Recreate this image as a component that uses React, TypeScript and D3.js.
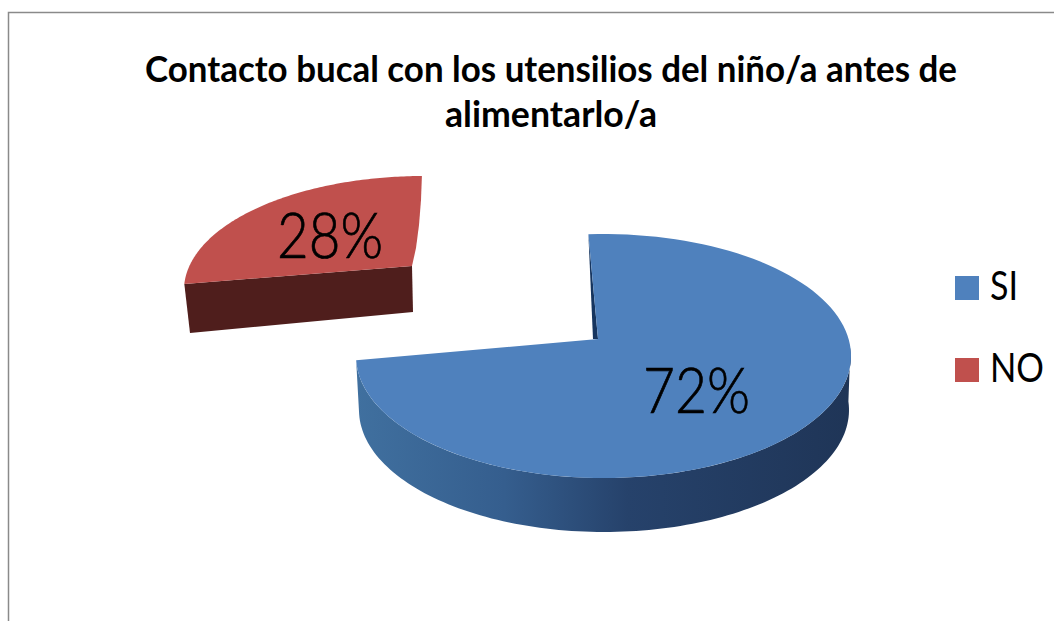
import React from "react";
import * as d3 from "d3";

const categories = ["SI", "NO"];
const values = [72, 28];
const labels = ["72%", "28%"];
const titleLines = ["Contacto bucal con los utensilios del niño/a antes de", "alimentarlo/a"];

const colors = { SI: "#4f81bd", NO: "#c0504d" };
const FONT = "Lato, 'Open Sans', sans-serif";
const rad = (d: number) => (d * Math.PI) / 180;

type Ell = { cx: number; cy: number; rx: number; ry: number };
const blueTop: Ell = { cx: 603.5, cy: 356, rx: 247.5, ry: 122 };
const blueBot: Ell = { cx: 604, cy: 410, rx: 245, ry: 122 };
const redTop: Ell = { cx: 424, cy: 290, rx: 240, ry: 114 };
const blueApex: [number, number] = [598, 339];
const redApex: [number, number] = [412, 266];
const redEdge: [number, number][] = [[416, 248], [419, 225], [421, 200]];
const redLowerApex: [number, number] = [413, 312];
const redLowerLeft: [number, number] = [190, 333];

const pt = (e: Ell, a: number): [number, number] => [e.cx + e.rx * Math.sin(a), e.cy - e.ry * Math.cos(a)];
const line = d3.line<[number, number]>();
const arcPts = (e: Ell, a0: number, a1: number) =>
  d3.range(0, 121).map((i) => pt(e, a0 + ((a1 - a0) * i) / 120));

const slices = d3.pie<number>().sort(null)(values);
// Map a pie angle to the tilted ellipse parameter (perspective stretches the sweep).
const blueParam = d3.scaleLinear().domain([slices[0].startAngle, slices[0].endAngle]).range([rad(-3.5), rad(268)]);
const redParam = d3.scaleLinear().domain([slices[1].startAngle, slices[1].endAngle]).range([rad(273), rad(359.5)]);

const b0 = blueParam(slices[0].startAngle);
const b1 = blueParam(slices[0].endAngle);
const r0 = redParam(slices[1].startAngle);
const r1 = redParam(slices[1].endAngle);

const blueFace = arcPts(blueTop, b0, b1);
const blueFacePath = line([blueApex, ...blueFace]) + "Z";
const blueSidePath = line([...arcPts(blueTop, rad(86), b1), ...arcPts(blueBot, b1, rad(86))]) + "Z";
const blueWall = line([blueFace[0], blueApex, [blueApex[0] - 5, blueApex[1]]]) + "Z";

const redFace = arcPts(redTop, r0, r1);
const redFacePath = d3.line<[number, number]>()([redApex, ...redFace, ...[...redEdge].reverse()]) + "Z";
const redSidePath = line([redFace[0], redApex, redLowerApex, redLowerLeft]) + "Z";

export default function App() {
  return (
    <svg width={1054} height={621} style={{ position: "absolute", left: 0, top: 0, background: "#fff" }}>
      <defs>
        <linearGradient id="blueSide" gradientUnits="userSpaceOnUse" x1={356} x2={850} y1={0} y2={0}>
          <stop offset="0" stopColor="#40709f" />
          <stop offset="0.3" stopColor="#355e8e" />
          <stop offset="0.55" stopColor="#26426b" />
          <stop offset="1" stopColor="#1f3557" />
        </linearGradient>
      </defs>
      <path d="M8.5,621V12.5H1054" fill="none" stroke="#8a8a8a" strokeWidth={1.5} />
      {titleLines.map((t, i) => (
        <text key={t} x={551} y={82 + i * 45} textAnchor="middle" fontFamily={FONT} fontWeight={700} fontSize={36}
          textLength={i === 0 ? 812 : 212} lengthAdjust="spacingAndGlyphs" fill="#000">{t}</text>
      ))}
      <path d={redSidePath} fill="#4f1e1c" />
      <path d={redFacePath} fill={colors.NO} />
      <path d={blueSidePath} fill="url(#blueSide)" />
      <path d={blueWall} fill="#16355f" />
      <path d={blueFacePath} fill={colors.SI} />
      <text x={643} y={413} fontFamily={FONT} fontWeight={300} fontSize={64} textLength={107} lengthAdjust="spacingAndGlyphs" stroke="#000" strokeWidth={0.7}>{labels[0]}</text>
      <text x={277} y={258} fontFamily={FONT} fontWeight={300} fontSize={64} textLength={106} lengthAdjust="spacingAndGlyphs" stroke="#000" strokeWidth={0.7}>{labels[1]}</text>
      {categories.map((c, i) => (
        <g key={c}>
          <rect x={955} y={276 + i * 82} width={24} height={24} fill={i === 0 ? colors.SI : colors.NO} />
          <text x={990} y={300 + i * 82} fontFamily={FONT} fontSize={41} textLength={i === 0 ? 28 : 54} lengthAdjust="spacingAndGlyphs">{c}</text>
        </g>
      ))}
    </svg>
  );
}
